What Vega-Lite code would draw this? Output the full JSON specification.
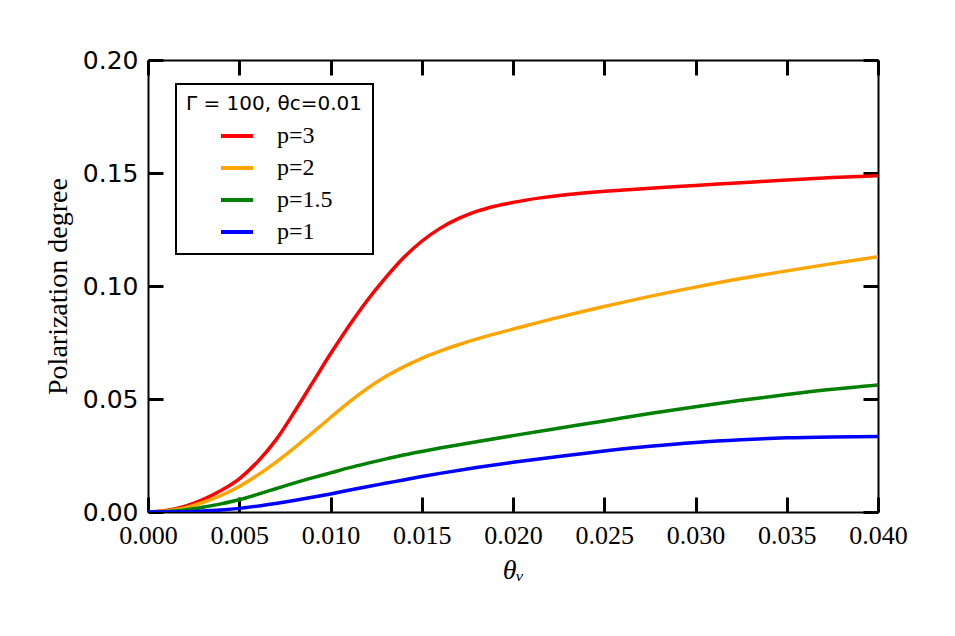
{
  "$schema": "https://vega.github.io/schema/vega-lite/v6.json",
  "width": 730,
  "height": 452,
  "autosize": "none",
  "padding": {"left": 148, "top": 60, "right": 77, "bottom": 124},
  "background": "white",
  "config": {"view": {"stroke": null}},
  "data": {
    "values": [
      {"theta": 0.000, "pol": 0.0000, "p": "p=3"},
      {"theta": 0.001, "pol": 0.0007, "p": "p=3"},
      {"theta": 0.002, "pol": 0.0025, "p": "p=3"},
      {"theta": 0.003, "pol": 0.0055, "p": "p=3"},
      {"theta": 0.004, "pol": 0.0095, "p": "p=3"},
      {"theta": 0.005, "pol": 0.0147, "p": "p=3"},
      {"theta": 0.006, "pol": 0.0222, "p": "p=3"},
      {"theta": 0.007, "pol": 0.0318, "p": "p=3"},
      {"theta": 0.008, "pol": 0.0440, "p": "p=3"},
      {"theta": 0.009, "pol": 0.0570, "p": "p=3"},
      {"theta": 0.010, "pol": 0.0700, "p": "p=3"},
      {"theta": 0.011, "pol": 0.0822, "p": "p=3"},
      {"theta": 0.012, "pol": 0.0935, "p": "p=3"},
      {"theta": 0.013, "pol": 0.1035, "p": "p=3"},
      {"theta": 0.014, "pol": 0.1125, "p": "p=3"},
      {"theta": 0.015, "pol": 0.1198, "p": "p=3"},
      {"theta": 0.016, "pol": 0.1255, "p": "p=3"},
      {"theta": 0.017, "pol": 0.1298, "p": "p=3"},
      {"theta": 0.018, "pol": 0.1330, "p": "p=3"},
      {"theta": 0.019, "pol": 0.1353, "p": "p=3"},
      {"theta": 0.020, "pol": 0.1370, "p": "p=3"},
      {"theta": 0.0215, "pol": 0.1390, "p": "p=3"},
      {"theta": 0.023, "pol": 0.1405, "p": "p=3"},
      {"theta": 0.025, "pol": 0.1419, "p": "p=3"},
      {"theta": 0.0275, "pol": 0.1433, "p": "p=3"},
      {"theta": 0.030, "pol": 0.1445, "p": "p=3"},
      {"theta": 0.0325, "pol": 0.1457, "p": "p=3"},
      {"theta": 0.035, "pol": 0.1469, "p": "p=3"},
      {"theta": 0.0375, "pol": 0.1480, "p": "p=3"},
      {"theta": 0.040, "pol": 0.1488, "p": "p=3"},
      {"theta": 0.000, "pol": 0.0000, "p": "p=2"},
      {"theta": 0.001, "pol": 0.0005, "p": "p=2"},
      {"theta": 0.002, "pol": 0.0018, "p": "p=2"},
      {"theta": 0.003, "pol": 0.0042, "p": "p=2"},
      {"theta": 0.004, "pol": 0.0073, "p": "p=2"},
      {"theta": 0.005, "pol": 0.0113, "p": "p=2"},
      {"theta": 0.006, "pol": 0.0163, "p": "p=2"},
      {"theta": 0.007, "pol": 0.0220, "p": "p=2"},
      {"theta": 0.008, "pol": 0.0283, "p": "p=2"},
      {"theta": 0.009, "pol": 0.0350, "p": "p=2"},
      {"theta": 0.010, "pol": 0.0418, "p": "p=2"},
      {"theta": 0.011, "pol": 0.0485, "p": "p=2"},
      {"theta": 0.012, "pol": 0.0546, "p": "p=2"},
      {"theta": 0.013, "pol": 0.0598, "p": "p=2"},
      {"theta": 0.014, "pol": 0.0642, "p": "p=2"},
      {"theta": 0.015, "pol": 0.0680, "p": "p=2"},
      {"theta": 0.016, "pol": 0.0712, "p": "p=2"},
      {"theta": 0.017, "pol": 0.0740, "p": "p=2"},
      {"theta": 0.018, "pol": 0.0765, "p": "p=2"},
      {"theta": 0.019, "pol": 0.0788, "p": "p=2"},
      {"theta": 0.020, "pol": 0.0809, "p": "p=2"},
      {"theta": 0.0225, "pol": 0.0861, "p": "p=2"},
      {"theta": 0.025, "pol": 0.0909, "p": "p=2"},
      {"theta": 0.0275, "pol": 0.0954, "p": "p=2"},
      {"theta": 0.030, "pol": 0.0995, "p": "p=2"},
      {"theta": 0.0325, "pol": 0.1033, "p": "p=2"},
      {"theta": 0.035, "pol": 0.1067, "p": "p=2"},
      {"theta": 0.0375, "pol": 0.1099, "p": "p=2"},
      {"theta": 0.040, "pol": 0.1130, "p": "p=2"},
      {"theta": 0.000, "pol": 0.0000, "p": "p=1.5"},
      {"theta": 0.001, "pol": 0.0002, "p": "p=1.5"},
      {"theta": 0.002, "pol": 0.0009, "p": "p=1.5"},
      {"theta": 0.003, "pol": 0.0021, "p": "p=1.5"},
      {"theta": 0.004, "pol": 0.0036, "p": "p=1.5"},
      {"theta": 0.005, "pol": 0.0054, "p": "p=1.5"},
      {"theta": 0.006, "pol": 0.0078, "p": "p=1.5"},
      {"theta": 0.007, "pol": 0.0103, "p": "p=1.5"},
      {"theta": 0.008, "pol": 0.0128, "p": "p=1.5"},
      {"theta": 0.009, "pol": 0.0151, "p": "p=1.5"},
      {"theta": 0.010, "pol": 0.0173, "p": "p=1.5"},
      {"theta": 0.011, "pol": 0.0195, "p": "p=1.5"},
      {"theta": 0.012, "pol": 0.0215, "p": "p=1.5"},
      {"theta": 0.013, "pol": 0.0234, "p": "p=1.5"},
      {"theta": 0.014, "pol": 0.0252, "p": "p=1.5"},
      {"theta": 0.015, "pol": 0.0268, "p": "p=1.5"},
      {"theta": 0.016, "pol": 0.0283, "p": "p=1.5"},
      {"theta": 0.018, "pol": 0.0311, "p": "p=1.5"},
      {"theta": 0.020, "pol": 0.0338, "p": "p=1.5"},
      {"theta": 0.0225, "pol": 0.0371, "p": "p=1.5"},
      {"theta": 0.025, "pol": 0.0403, "p": "p=1.5"},
      {"theta": 0.0275, "pol": 0.0436, "p": "p=1.5"},
      {"theta": 0.030, "pol": 0.0466, "p": "p=1.5"},
      {"theta": 0.0325, "pol": 0.0494, "p": "p=1.5"},
      {"theta": 0.035, "pol": 0.0520, "p": "p=1.5"},
      {"theta": 0.0375, "pol": 0.0543, "p": "p=1.5"},
      {"theta": 0.040, "pol": 0.0562, "p": "p=1.5"},
      {"theta": 0.000, "pol": 0.0000, "p": "p=1"},
      {"theta": 0.001, "pol": 0.0000, "p": "p=1"},
      {"theta": 0.002, "pol": 0.0001, "p": "p=1"},
      {"theta": 0.003, "pol": 0.0004, "p": "p=1"},
      {"theta": 0.004, "pol": 0.0009, "p": "p=1"},
      {"theta": 0.005, "pol": 0.0016, "p": "p=1"},
      {"theta": 0.006, "pol": 0.0026, "p": "p=1"},
      {"theta": 0.007, "pol": 0.0038, "p": "p=1"},
      {"theta": 0.008, "pol": 0.0051, "p": "p=1"},
      {"theta": 0.009, "pol": 0.0065, "p": "p=1"},
      {"theta": 0.010, "pol": 0.0080, "p": "p=1"},
      {"theta": 0.011, "pol": 0.0096, "p": "p=1"},
      {"theta": 0.012, "pol": 0.0112, "p": "p=1"},
      {"theta": 0.013, "pol": 0.0127, "p": "p=1"},
      {"theta": 0.014, "pol": 0.0142, "p": "p=1"},
      {"theta": 0.015, "pol": 0.0157, "p": "p=1"},
      {"theta": 0.016, "pol": 0.0171, "p": "p=1"},
      {"theta": 0.018, "pol": 0.0197, "p": "p=1"},
      {"theta": 0.020, "pol": 0.0220, "p": "p=1"},
      {"theta": 0.0225, "pol": 0.0246, "p": "p=1"},
      {"theta": 0.025, "pol": 0.0270, "p": "p=1"},
      {"theta": 0.0275, "pol": 0.0291, "p": "p=1"},
      {"theta": 0.030, "pol": 0.0308, "p": "p=1"},
      {"theta": 0.0325, "pol": 0.0320, "p": "p=1"},
      {"theta": 0.035, "pol": 0.0328, "p": "p=1"},
      {"theta": 0.0375, "pol": 0.0332, "p": "p=1"},
      {"theta": 0.040, "pol": 0.0334, "p": "p=1"}
    ]
  },
  "layer": [
    {
      "mark": {"type": "line", "strokeWidth": 3.5, "interpolate": "monotone", "clip": true},
      "encoding": {
        "x": {
          "field": "theta",
          "type": "quantitative",
          "scale": {"domain": [0, 0.04], "nice": false, "zero": false},
          "axis": {
            "orient": "bottom",
            "title": "θᵥ",
            "values": [0, 0.005, 0.01, 0.015, 0.02, 0.025, 0.03, 0.035, 0.04],
            "format": ".3f",
            "grid": false,
            "domainColor": "black",
            "domainWidth": 2,
            "tickColor": "black",
            "tickWidth": 3,
            "tickSize": -15,
            "labelPadding": 25,
            "labelFont": "Liberation Serif",
            "labelFontSize": 26,
            "labelColor": "black",
            "labelFlush": false,
            "titleFont": "Liberation Serif",
            "titleFontStyle": "italic",
            "titleFontWeight": "normal",
            "titleFontSize": 28,
            "titleColor": "black",
            "titlePadding": 8
          }
        },
        "y": {
          "field": "pol",
          "type": "quantitative",
          "scale": {"domain": [0, 0.2], "nice": false},
          "axis": {
            "orient": "left",
            "title": "Polarization degree",
            "values": [0, 0.05, 0.1, 0.15, 0.2],
            "format": ".2f",
            "grid": false,
            "domainColor": "black",
            "domainWidth": 2,
            "tickColor": "black",
            "tickWidth": 3,
            "tickSize": -15,
            "labelPadding": 25,
            "labelFont": "DejaVu Sans",
            "labelFontSize": 25,
            "labelColor": "black",
            "labelFlush": false,
            "titleFont": "Liberation Serif",
            "titleFontWeight": "normal",
            "titleFontSize": 28,
            "titleColor": "black",
            "titlePadding": 10
          }
        },
        "color": {
          "field": "p",
          "type": "nominal",
          "sort": ["p=3", "p=2", "p=1.5", "p=1"],
          "scale": {"domain": ["p=3", "p=2", "p=1.5", "p=1"], "range": ["#ff0000", "#ffa500", "#008000", "#0000ff"]},
          "legend": {
            "title": "Γ = 100, θc=0.01",
            "orient": "none",
            "legendX": 28,
            "legendY": 24,
            "direction": "vertical",
            "fillColor": "white",
            "strokeColor": "black",
            "padding": 10,
            "titleFont": "DejaVu Sans",
            "titleFontWeight": "normal",
            "titleFontSize": 20,
            "titleColor": "black",
            "titlePadding": 4,
            "symbolType": "stroke",
            "symbolSize": 1024,
            "symbolStrokeWidth": 4,
            "symbolOffset": 33,
            "labelFont": "Liberation Serif",
            "labelFontSize": 24,
            "labelColor": "black",
            "labelOffset": 22,
            "rowPadding": 2,
            "encode": {"legend": {"update": {"strokeWidth": {"value": 2}}}}
          }
        }
      }
    },
    {
      "mark": {"type": "line", "strokeOpacity": 0},
      "encoding": {
        "x": {
          "field": "theta",
          "type": "quantitative",
          "axis": {
            "orient": "top",
            "title": null,
            "labels": false,
            "values": [0, 0.005, 0.01, 0.015, 0.02, 0.025, 0.03, 0.035, 0.04],
            "grid": false,
            "domainColor": "black",
            "domainWidth": 2,
            "tickColor": "black",
            "tickWidth": 3,
            "tickSize": -15
          }
        },
        "y": {
          "field": "pol",
          "type": "quantitative",
          "axis": {
            "orient": "right",
            "title": null,
            "labels": false,
            "values": [0, 0.05, 0.1, 0.15, 0.2],
            "grid": false,
            "domainColor": "black",
            "domainWidth": 2,
            "tickColor": "black",
            "tickWidth": 3,
            "tickSize": -15
          }
        },
        "detail": {"field": "p"}
      }
    }
  ],
  "resolve": {"axis": {"x": "independent", "y": "independent"}}
}
